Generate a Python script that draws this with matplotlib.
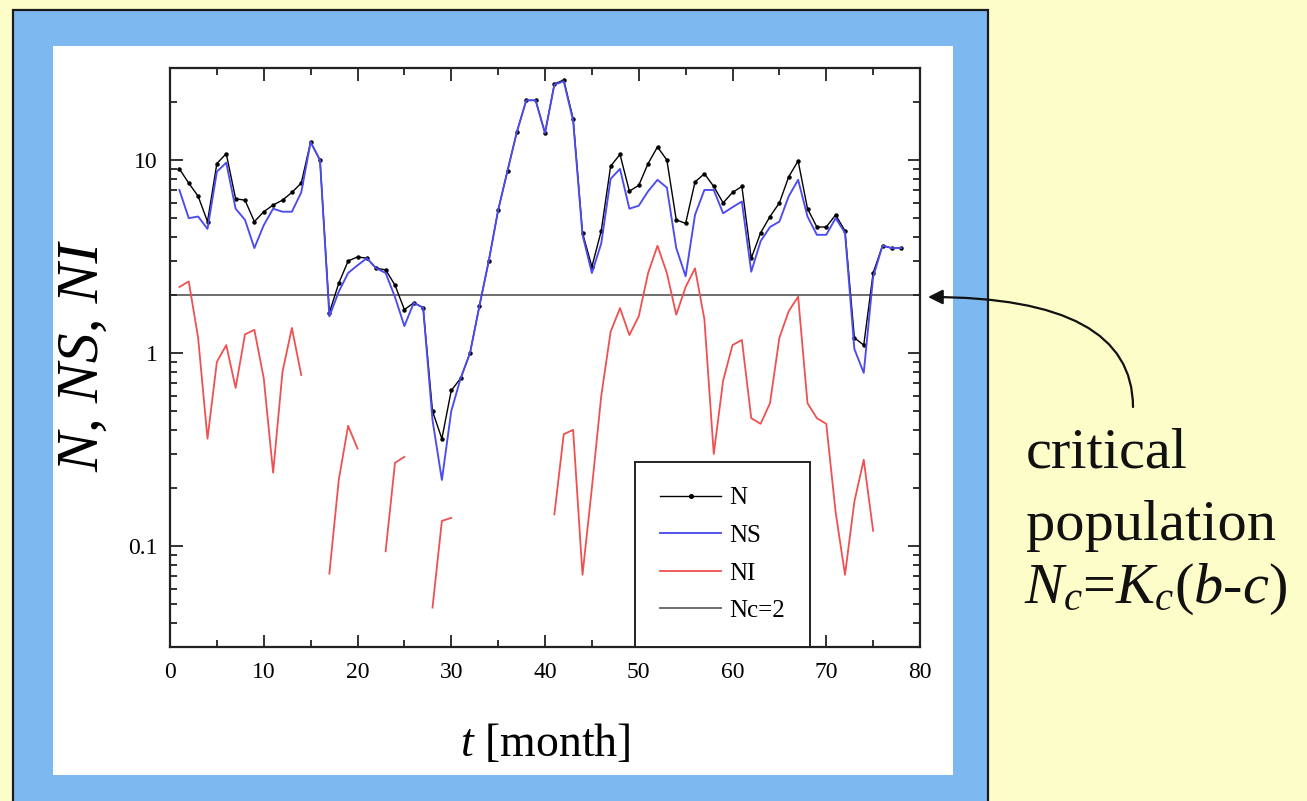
import numpy as np
import matplotlib
matplotlib.use("Agg")
import matplotlib.pyplot as plt
from matplotlib.patches import Rectangle, FancyArrowPatch
from matplotlib.ticker import FixedLocator, MultipleLocator, LogLocator, NullFormatter

plt.rcParams["font.family"] = ["Liberation Serif", "DejaVu Serif"]
plt.rcParams["mathtext.fontset"] = "custom"
plt.rcParams["mathtext.rm"] = "Liberation Serif"
plt.rcParams["mathtext.it"] = "Liberation Serif:italic"

# ---- data -------------------------------------------------------------
months = list(range(1, 79))

N = [9.0, 7.6, 6.5, 4.8, 9.6, 10.8, 6.3, 6.2, 4.8, 5.4,
     5.85, 6.2, 6.8, 7.6, 12.4, 10.0, 1.62, 2.3, 3.0, 3.15,
     3.1, 2.75, 2.7, 2.25, 1.68, 1.82, 1.72, 0.5, 0.36, 0.64,
     0.74, 1.0, 1.75, 3.0, 5.5, 8.8, 14.0, 20.4, 20.4, 13.8,
     24.8, 26.0, 16.4, 4.2, 2.8, 4.3, 9.3, 10.7, 6.9, 7.4,
     9.6, 11.7, 10.0, 4.9, 4.7, 7.7, 8.5, 7.3, 6.0, 6.8,
     7.3, 3.1, 4.2, 5.1, 6.0, 8.2, 9.9, 5.6, 4.5, 4.5,
     5.2, 4.3, 1.2, 1.1, 2.6, 3.6, 3.5, 3.5]

NS = [7.0, 5.0, 5.1, 4.4, 8.7, 9.7, 5.6, 4.9, 3.5, 4.6,
      5.6, 5.4, 5.4, 6.8, 12.4, 10.0, 1.55, 2.08, 2.6, 2.85,
      3.1, 2.75, 2.6, 1.95, 1.38, 1.82, 1.72, 0.45, 0.22, 0.50,
      0.74, 1.0, 1.75, 3.0, 5.5, 8.8, 14.0, 20.4, 20.4, 13.8,
      24.6, 25.6, 16.0, 4.1, 2.6, 3.7, 8.0, 9.0, 5.6, 5.8,
      6.9, 7.9, 7.2, 3.5, 2.5, 5.2, 7.0, 7.0, 5.3, 5.7,
      6.1, 2.64, 3.8, 4.5, 4.8, 6.5, 7.9, 5.1, 4.1, 4.1,
      5.0, 4.2, 1.05, 0.79, 2.48, 3.6, 3.5, 3.5]

# None marks months without any infected individuals (gaps on the log axis)
NI = [2.2, 2.35, 1.2, 0.36, 0.9, 1.1, 0.66, 1.25, 1.32, 0.74,
      0.24, 0.8, 1.35, 0.77, None, None, 0.072, 0.22, 0.42, 0.32,
      None, None, 0.094, 0.27, 0.29, None, None, 0.048, 0.135, 0.14,
      None, None, None, None, None, None, None, None, None, None,
      0.146, 0.38, 0.40, 0.071, 0.2, 0.6, 1.29, 1.71, 1.24, 1.55,
      2.6, 3.6, 2.6, 1.58, 2.2, 2.75, 1.5, 0.30, 0.72, 1.1,
      1.17, 0.46, 0.43, 0.55, 1.2, 1.65, 1.96, 0.55, 0.46, 0.43,
      0.15, 0.071, 0.17, 0.28, 0.12, None, None, None]

NC = 2.0

x_ticks = [0, 10, 20, 30, 40, 50, 60, 70, 80]
y_ticks = [0.1, 1, 10]
y_tick_labels = ["0.1", "1", "10"]

# ---- figure -------------------------------------------------------------
W, H = 1307, 801
fig = plt.figure(figsize=(W / 100, H / 100), dpi=100, facecolor="#fdfdca")


def fx(px):
    return px / W


def fy(py):
    return 1 - py / H


# blue frame and white panel
fig.add_artist(Rectangle((fx(13), fy(812)), (988 - 13) / W, (812 - 10) / H,
                         transform=fig.transFigure, facecolor="#7db9f0",
                         edgecolor="#1a1a1a", linewidth=1.6, zorder=-3))
fig.add_artist(Rectangle((fx(53), fy(775)), (953 - 53) / W, (775 - 46) / H,
                         transform=fig.transFigure, facecolor="white",
                         edgecolor="none", zorder=-2))

ax = fig.add_axes([fx(170), fy(647), (920 - 170) / W, (647 - 68) / H])
ax.set_facecolor("white")

ni = np.array([np.nan if v is None else v for v in NI], dtype=float)

ax.axhline(NC, color="#6e6e6e", lw=1.4, zorder=1, label="Nc=2")
ax.plot(months, ni, color="#f05050", lw=1.3, zorder=2, label="NI")
ax.plot(months, N, color="black", lw=1.0, marker="o", markersize=2.2,
        zorder=3, label="N")
ax.plot(months, NS, color="#4b4bf0", lw=1.35, zorder=4, label="NS")

ax.set_yscale("log")
ax.set_xlim(0, 80)
ax.set_ylim(0.03, 30)

ax.xaxis.set_major_locator(FixedLocator(x_ticks))
ax.xaxis.set_minor_locator(MultipleLocator(5))
ax.yaxis.set_major_locator(FixedLocator(y_ticks))
ax.set_yticklabels(y_tick_labels)
ax.yaxis.set_minor_locator(LogLocator(base=10, subs=np.arange(2, 10)))
ax.yaxis.set_minor_formatter(NullFormatter())

ax.tick_params(which="both", direction="in", top=True, right=True,
               width=1.3, color="#222222")
ax.tick_params(which="major", length=9)
ax.tick_params(which="minor", length=5)
ax.tick_params(axis="x", which="major", labelsize=17, pad=11)
ax.tick_params(axis="y", which="major", labelsize=17, pad=9)
for s in ax.spines.values():
    s.set_linewidth(1.6)
    s.set_color("#222222")

ax.set_xlabel("$t$ [month]", fontsize=33, va="center")
ax.xaxis.set_label_coords(0.5, -(745 - 647) / (647 - 68))
ax.set_ylabel("N, NS, NI", fontsize=43, fontstyle="italic", va="center")
ax.yaxis.set_label_coords(-(170 - 84) / (920 - 170), 0.5)

handles, labels = ax.get_legend_handles_labels()
order = [labels.index(k) for k in ["N", "NS", "NI", "Nc=2"]]
leg = ax.legend([handles[i] for i in order], [labels[i] for i in order],
                loc="lower left", bbox_to_anchor=((635 - 170) / 750, 0.0),
                borderaxespad=0, fontsize=18, handlelength=2.45,
                handletextpad=0.3, labelspacing=0.6, borderpad=1.0,
                fancybox=False, framealpha=1, edgecolor="#222222",
                numpoints=1, markerscale=1.2)
leg.get_frame().set_linewidth(1.4)

# annotation on the right
txt_kw = dict(fontsize=42, ha="left", va="baseline", color="#111111")
fig.text(fx(1026), fy(467), "critical", **txt_kw)
fig.text(fx(1026), fy(540), "population", **txt_kw)
fig.text(fx(1024), fy(603), "$N_c$=$K_c$($b$-$c$)", **txt_kw)

arrow = FancyArrowPatch(posA=(fx(1133), fy(407)), posB=(fx(928), fy(297)),
                        transform=fig.transFigure,
                        connectionstyle="angle3,angleA=90,angleB=0",
                        arrowstyle="-|>", mutation_scale=22, lw=1.6,
                        color="#111111", shrinkA=0, shrinkB=0)
fig.add_artist(arrow)

fig.savefig("out.png", dpi=100, facecolor=fig.get_facecolor())
